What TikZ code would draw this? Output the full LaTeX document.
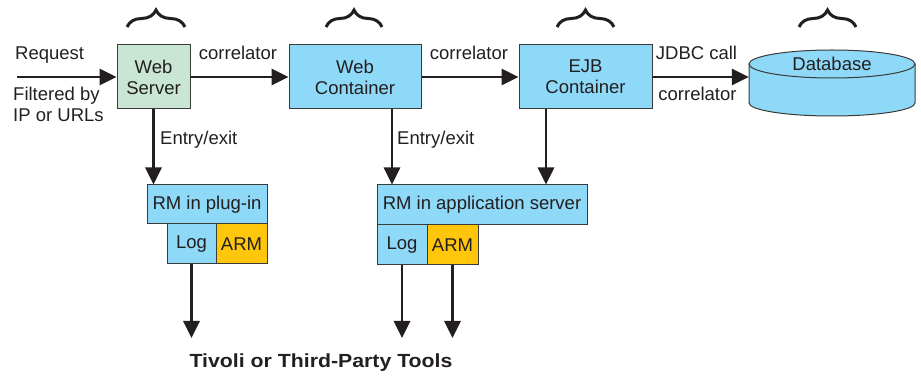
\documentclass[tikz,border=0pt]{standalone}
\usepackage{fontspec}
\setmainfont{Liberation Sans}
\usetikzlibrary{arrows.meta,decorations.pathreplacing}
\definecolor{wsgreen}{HTML}{C8E6D3}
\definecolor{boxblue}{HTML}{8ED8F8}
\definecolor{armgold}{HTML}{FFC60B}
\definecolor{edge}{HTML}{3A3A3A}
\definecolor{ink}{HTML}{231F20}
\begin{document}
\begin{tikzpicture}[x=1pt,y=1pt,
  font=\fontsize{18.5}{21}\selectfont,
  box/.style={draw=edge, line width=1pt, inner sep=0pt, align=center, text=ink},
  flow/.style={draw=ink, line width=2.8pt, -{Triangle[length=17pt,width=16pt]}},
  brc/.style={draw=ink, line width=3pt, decorate, decoration={brace, amplitude=17pt}},
  lbl/.style={text=ink, inner sep=0pt}
]
\useasboundingbox (0,0) rectangle (921,-379);

% main boxes
\node[box, fill=wsgreen, minimum width=73pt, minimum height=64pt] (ws) at (153.5,-77) {Web\\Server};
\node[box, fill=boxblue, minimum width=132pt, minimum height=64pt] (wc) at (355,-77) {Web\\Container};
\node[box, fill=boxblue, minimum width=133pt, minimum height=64pt] (ejb) at (585.5,-77) {EJB\\Container};

% database
\fill[boxblue] (749,-64) -- (749,-103) arc[start angle=180,end angle=360,x radius=83,y radius=13]
  -- (915,-64) arc[start angle=0,end angle=180,x radius=83,y radius=14] -- cycle;
\draw[edge, line width=1pt] (749,-64) -- (749,-103) arc[start angle=180,end angle=360,x radius=83,y radius=13] -- (915,-64);
\draw[edge, line width=1pt] (832,-64) ellipse[x radius=83,y radius=14];
\node[minimum width=166pt, minimum height=66pt, inner sep=0pt] (db) at (832,-83) {};
\node[lbl] (dbl) at (832,-64) {Database};

% braces
\draw[brc] (127,-27) -- (185,-27);
\draw[brc] (326,-27) -- (382,-27);
\draw[brc] (557,-27) -- (614,-27);
\draw[brc] (799,-27) -- (856,-27);

% bottom boxes
\node[box, fill=boxblue, minimum width=120pt, minimum height=39pt] (rmP) at (207,-204.5) {RM in plug-in};
\node[box, fill=boxblue, minimum width=49pt, minimum height=40pt] (logP) at (191.5,-244) {Log};
\node[box, fill=armgold, minimum width=51pt, minimum height=40pt] (armP) at (241.5,-244) {ARM};
\node[box, fill=boxblue, minimum width=210pt, minimum height=40pt] (rmA) at (482,-205) {RM in application server};
\node[box, fill=boxblue, minimum width=50pt, minimum height=40pt] (logA) at (402,-245) {Log};
\node[box, fill=armgold, minimum width=51pt, minimum height=40pt] (armA) at (452.5,-245) {ARM};

% labels
\node[lbl, anchor=west] (req) at (15,-55) {Request};
\node[lbl, anchor=west, align=left] (filt) at (13,-104) {Filtered by\\IP or URLs};
\node[lbl] (c1) at (238,-53) {correlator};
\node[lbl] (c2) at (469,-53) {correlator};
\node[lbl] (jdbc) at (696.5,-53) {JDBC call};
\node[lbl] (c3) at (697.5,-94) {correlator};
\node[lbl, anchor=west] (ee1) at (160,-140) {Entry/exit};
\node[lbl, anchor=west] (ee2) at (397,-140) {Entry/exit};
\node[lbl, font=\fontsize{19}{21}\selectfont\bfseries] (tools) at (321,-363) {\scalebox{1.12}[1]{Tivoli or Third-Party Tools}};

% coordinates
\coordinate (start) at (17,-77);
\coordinate (e1) at (191.5,-338);
\coordinate (e2) at (402,-338);
\coordinate (e3) at (452.5,-338);

% arrows
\draw[flow] (start) -- (ws.west);
\draw[flow] (ws.east) -- (wc.west);
\draw[flow] (wc.east) -- (ejb.west);
\draw[flow] (ejb.east) -- (ejb.east -| db.west);
\draw[flow] (ws.south) -- (ws.south |- rmP.north);
\draw[flow] ([xshift=37pt]wc.south) -- ([xshift=37pt]wc.south |- rmA.north);
\draw[flow] ([xshift=-39.5pt]ejb.south) -- ([xshift=-39.5pt]ejb.south |- rmA.north);
\draw[flow] (logP.south) -- (e1);
\draw[flow] (logA.south) -- (e2);
\draw[flow] (armA.south) -- (e3);
\end{tikzpicture}
\end{document}
